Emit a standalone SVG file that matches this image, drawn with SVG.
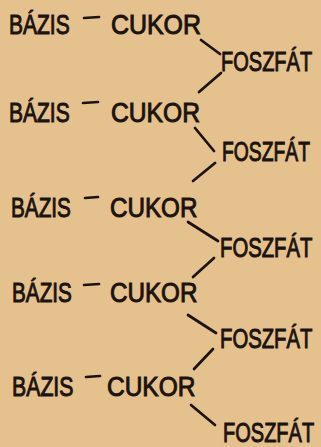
<svg xmlns="http://www.w3.org/2000/svg" width="321" height="447" viewBox="0 0 321 447">
  <defs>
    <style>
      .lbl { font-family: "Liberation Sans", "DejaVu Sans", sans-serif; font-size: 28px; fill: #1b130e; stroke: #1b130e; stroke-width: 1px; }
      .bond { stroke: #1b130e; stroke-width: 2.7; stroke-linecap: round; fill: none; }
    </style>
  </defs>
  <rect width="321" height="447" fill="#e5c18e"/>

  <!-- nucleotide 1 -->
  <g id="bazis1"><text class="lbl" transform="translate(9 34) scale(0.75 1)">BÁZIS</text></g>
  <g id="cukor1"><text class="lbl" transform="translate(111 34) scale(0.89 1)">CUKOR</text></g>
  <g id="foszfat1"><text class="lbl" transform="translate(221 71) scale(0.715 1)">FOSZFÁT</text></g>

  <!-- nucleotide 2 -->
  <g id="bazis2"><text class="lbl" transform="translate(9 122) scale(0.75 1)">BÁZIS</text></g>
  <g id="cukor2"><text class="lbl" transform="translate(111 122) scale(0.88 1)">CUKOR</text></g>
  <g id="foszfat2"><text class="lbl" transform="translate(222 161) scale(0.69 1)">FOSZFÁT</text></g>

  <!-- nucleotide 3 -->
  <g id="bazis3"><text class="lbl" transform="translate(11 217) scale(0.74 1)">BÁZIS</text></g>
  <g id="cukor3"><text class="lbl" transform="translate(110 217) scale(0.865 1)">CUKOR</text></g>
  <g id="foszfat3"><text class="lbl" transform="translate(220 257) scale(0.725 1)">FOSZFÁT</text></g>

  <!-- nucleotide 4 -->
  <g id="bazis4"><text class="lbl" transform="translate(12 302) scale(0.74 1)">BÁZIS</text></g>
  <g id="cukor4"><text class="lbl" transform="translate(110 302) scale(0.865 1)">CUKOR</text></g>
  <g id="foszfat4"><text class="lbl" transform="translate(220 348) scale(0.725 1)">FOSZFÁT</text></g>

  <!-- nucleotide 5 -->
  <g id="bazis5"><text class="lbl" transform="translate(12 396) scale(0.76 1)">BÁZIS</text></g>
  <g id="cukor5"><text class="lbl" transform="translate(107 396) scale(0.875 1)">CUKOR</text></g>
  <g id="foszfat5"><text class="lbl" transform="translate(223 442) scale(0.715 1)">FOSZFÁT</text></g>

  <!-- bonds -->
  <g id="connectors">
    <!-- base to sugar -->
    <line class="bond" x1="84" y1="18" x2="99" y2="17"/>
    <line class="bond" x1="83" y1="103" x2="98" y2="102"/>
    <line class="bond" x1="85" y1="198" x2="98" y2="197"/>
    <line class="bond" x1="84" y1="285" x2="99" y2="284"/>
    <line class="bond" x1="86" y1="377" x2="100" y2="376"/>
    <!-- sugar to phosphate -->
    <line class="bond" x1="201" y1="40" x2="220" y2="54"/>
    <line class="bond" x1="195" y1="128" x2="214" y2="151"/>
    <line class="bond" x1="188" y1="222" x2="218" y2="241"/>
    <line class="bond" x1="188" y1="315" x2="216" y2="333"/>
    <line class="bond" x1="191" y1="405" x2="215" y2="425"/>
    <!-- phosphate to next sugar -->
    <line class="bond" x1="221" y1="73" x2="199" y2="92"/>
    <line class="bond" x1="215" y1="163" x2="193" y2="181"/>
    <line class="bond" x1="214" y1="258" x2="193" y2="277"/>
    <line class="bond" x1="213" y1="349" x2="194" y2="369"/>
  </g>
</svg>
